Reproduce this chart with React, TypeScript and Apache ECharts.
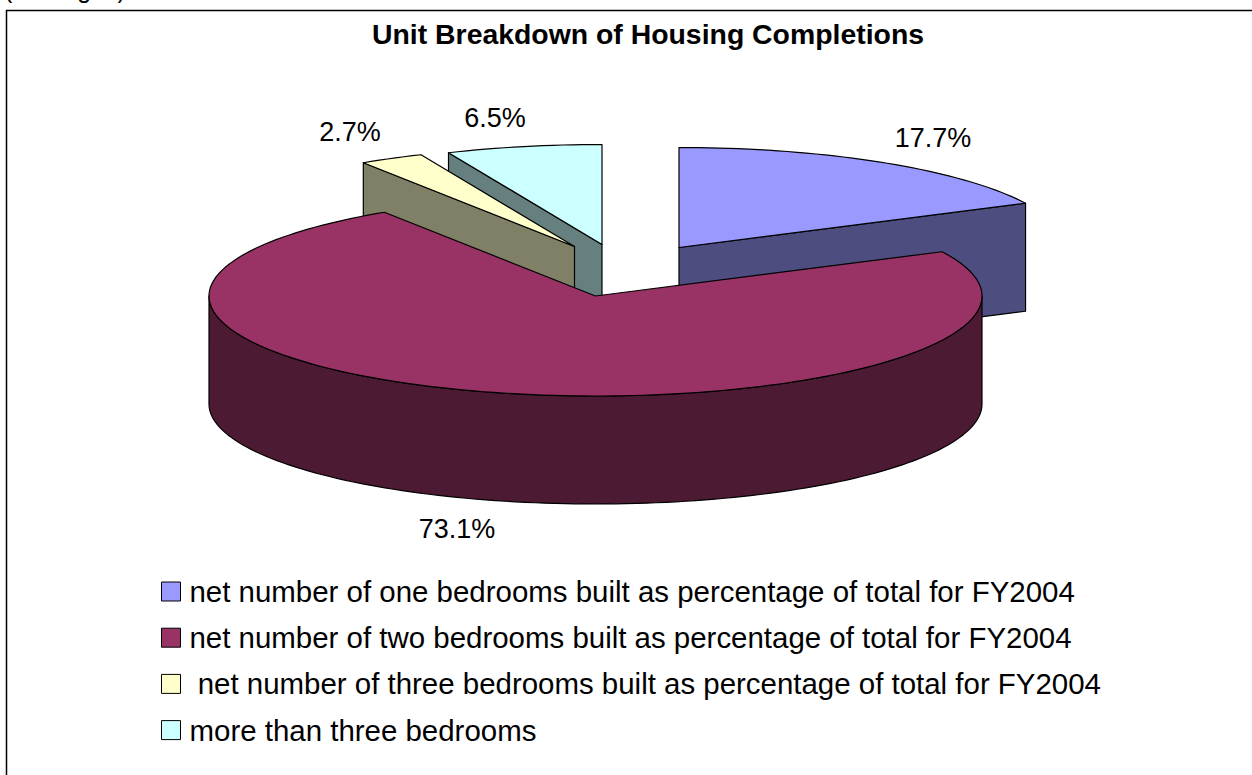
import React, { useEffect, useRef } from "react";
import * as echarts from "echarts";

const titleText = "Unit Breakdown of Housing Completions";
const clippedCaption = "(Averages)";
const categories = [
  "net number of one bedrooms built as percentage of total for FY2004",
  "net number of two bedrooms built as percentage of total for FY2004",
  " net number of three bedrooms built as percentage of total for FY2004",
  "more than three bedrooms",
];
const shares = [17.7, 73.1, 2.7, 6.5];
const topColors = ["#9999FF", "#993366", "#FFFFCC", "#CCFFFF"];
const sideColors = ["#4D4D80", "#4D1A33", "#808066", "#668080"];
const drawOrder = [2, 4, 3, 1];
// Apex of each wedge on the page (the wedges are pulled apart by hand in the source).
const apexes = [[679, 247.5], [595.5, 296], [574.5, 246.5], [602, 244.5]];
const labelCentres = [[933, 138], [457, 529], [350, 132], [495, 118]];

const RX = 386.5;
const RY = 100;
const DEPTH = 108;
const FONT = '"Liberation Sans", Arial, sans-serif';
const total = shares.reduce((a, b) => a + b, 0);

function sliceAngles(i: number): [number, number] {
  const before = shares.slice(0, i).reduce((a, b) => a + b, 0);
  return [(before / total) * 360, ((before + shares[i]) / total) * 360];
}

function rim(ax: number, ay: number, deg: number): [number, number] {
  const t = (deg * Math.PI) / 180;
  return [ax + RX * Math.sin(t), ay - RY * Math.cos(t)];
}

function arcPoints(ax: number, ay: number, a: number, b: number) {
  const out: [number, number][] = [];
  const n = Math.max(2, Math.ceil(Math.abs(b - a) / 1.5));
  for (let k = 0; k <= n; k++) out.push(rim(ax, ay, a + ((b - a) * k) / n));
  return out;
}

function shift(pts: [number, number][]) {
  return pts.map(([x, y]) => [x, y + DEPTH]);
}

function wall(ax: number, ay: number, deg: number, fill: string) {
  const p = rim(ax, ay, deg);
  return {
    type: "polygon",
    shape: { points: [[ax, ay], p, [p[0], p[1] + DEPTH], [ax, ay + DEPTH]] },
    style: { fill, stroke: "#000", lineWidth: 1.2, lineJoin: "round" },
  };
}

function makeRender(i: number) {
  return (_p: any, api: any) => {
    const [a, b] = sliceAngles(i);
    const [ax, ay] = apexes[i];
    const children: any[] = [];
    const side = sideColors[i];
    if (Math.sin((a * Math.PI) / 180) < -1e-6) children.push(wall(ax, ay, a, side));
    if (Math.sin((b * Math.PI) / 180) > 1e-6) children.push(wall(ax, ay, b, side));
    const fa = Math.max(a, 90);
    const fb = Math.min(b, 270);
    if (fb > fa) {
      const top = arcPoints(ax, ay, fa, fb);
      children.push({
        type: "polygon",
        shape: { points: [...top, ...shift(top).reverse()] },
        style: { fill: side, stroke: "#000", lineWidth: 1.2, lineJoin: "round" },
      });
    }
    children.push({
      type: "polygon",
      shape: { points: [[ax, ay], ...arcPoints(ax, ay, a, b)] },
      style: { fill: topColors[i], stroke: "#000", lineWidth: 1.2, lineJoin: "round" },
    });
    children.push({
      type: "text",
      style: {
        text: `${api.value(0)}%`,
        x: labelCentres[i][0],
        y: labelCentres[i][1],
        align: "center",
        verticalAlign: "middle",
        fill: "#000",
        font: `27px ${FONT}`,
      },
    });
    return { type: "group", children };
  };
}

export default function App() {
  const ref = useRef<HTMLDivElement>(null);
  useEffect(() => {
    const chart = echarts.init(ref.current!, null, { renderer: "svg" });
    chart.setOption({
      animation: false,
      backgroundColor: "#fff",
      title: {
        text: titleText,
        left: 372,
        top: 20,
        padding: 0,
        textStyle: { fontFamily: FONT, fontWeight: "bold", fontSize: 28.4, color: "#000" },
      },
      legend: {
        orient: "vertical",
        left: 161,
        top: 577,
        padding: 0,
        itemWidth: 19,
        itemHeight: 19,
        itemGap: 17.2,
        icon: "rect",
        selectedMode: false,
        data: categories,
        itemStyle: { borderColor: "#000", borderWidth: 1 },
        textStyle: { fontFamily: FONT, fontSize: 29.45, lineHeight: 26, color: "#000", padding: [0, 0, 0, 4] },
      },
      graphic: [
        {
          type: "polyline",
          shape: { points: [[6.5, 775], [6.5, 10.5], [1252, 10.5]] },
          style: { stroke: "#000", lineWidth: 1.5, fill: "none" },
          silent: true,
        },
        {
          type: "text",
          x: 4,
          y: -24,
          style: { text: clippedCaption, font: `25px ${FONT}`, fill: "#000" },
          silent: true,
        },
      ],
      series: categories.map((name, i) => ({
        type: "custom",
        name,
        coordinateSystem: "none",
        z: drawOrder[i],
        itemStyle: { color: topColors[i] },
        data: [[shares[i]]],
        renderItem: makeRender(i),
      })),
    });
    return () => chart.dispose();
  }, []);
  return (
    <div
      ref={ref}
      style={{ position: "absolute", left: 0, top: 0, width: 1252, height: 775 }}
    />
  );
}
